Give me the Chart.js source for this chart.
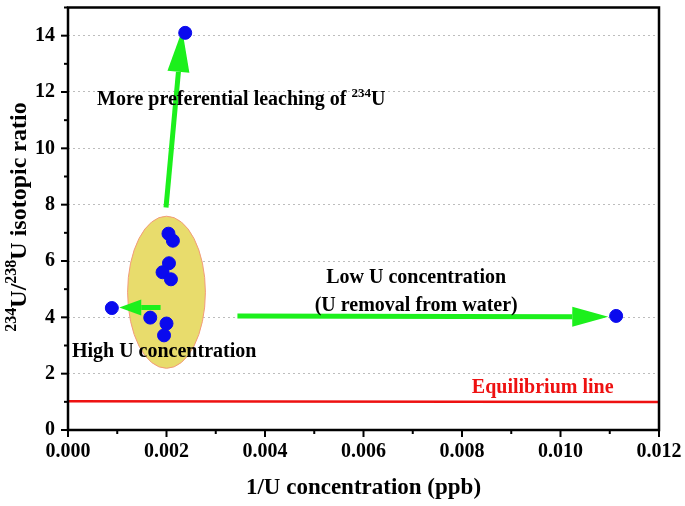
<!DOCTYPE html>
<html>
<head>
<meta charset="utf-8">
<script src="https://cdn.jsdelivr.net/npm/chart.js@4"></script>
<style>
  html, body { margin: 0; padding: 0; background: #fff; }
  #wrap { width: 685px; height: 506px; }
</style>
</head>
<body>
<div id="wrap"><canvas id="chart" width="685" height="506"></canvas></div>
<script>
// sample values
const xValues = [0.00238, 0.00089, 0.01113, 0.00204, 0.00213, 0.00205, 0.00192, 0.00209, 0.00167, 0.00200, 0.00195];
const yValues = [14.1, 4.33, 4.05, 6.97, 6.72, 5.92, 5.60, 5.35, 3.99, 3.78, 3.36];

const equilibriumX = [0, 0.012];
const equilibriumY = [1.02, 0.99];

// cluster ellipse: centre and radii in data units
const ellipseCenter = [0.0020, 4.89];
const ellipseRadius = [0.00079, 2.7];

// arrows: [x0, y0, x1, y1] in data units
const arrows = [
  [0.00199, 7.9, 0.00232, 14.2],
  [0.00344, 4.05, 0.01097, 4.02],
  [0.00188, 4.35, 0.00104, 4.35]
];

const xTicks = [0, 0.002, 0.004, 0.006, 0.008, 0.010, 0.012];
const yTicks = [0, 2, 4, 6, 8, 10, 12, 14];

const GREEN = "#1cf01c";
const FONT = "'Liberation Serif', 'Times New Roman', serif";

const drawRich = (ctx, parts, x, y, size) => {
  // parts: [text, isSuperscript]
  let cx = x;
  parts.forEach(([t, sup]) => {
    const s = sup ? Math.round(size * 0.65) : size;
    ctx.font = `bold ${s}px ${FONT}`;
    ctx.fillText(t, cx, sup ? y - size * 0.42 : y);
    cx += ctx.measureText(t).width;
  });
  return cx - x;
};

const richWidth = (ctx, parts, size) => {
  let w = 0;
  parts.forEach(([t, sup]) => {
    const s = sup ? Math.round(size * 0.65) : size;
    ctx.font = `bold ${s}px ${FONT}`;
    w += ctx.measureText(t).width;
  });
  return w;
};

const noPad = (s) => {
  s.paddingTop = 0;
  s.paddingBottom = 0;
  s.paddingLeft = 0;
  s.paddingRight = 0;
};

const decorPlugin = {
  id: "decor",
  beforeDatasetsDraw(chart) {
    const { ctx, scales } = chart;
    const xs = scales.x, ys = scales.y;
    const cx = xs.getPixelForValue(ellipseCenter[0]);
    const cy = ys.getPixelForValue(ellipseCenter[1]);
    const rx = Math.abs(xs.getPixelForValue(ellipseCenter[0] + ellipseRadius[0]) - cx);
    const ry = Math.abs(ys.getPixelForValue(ellipseCenter[1] + ellipseRadius[1]) - cy);
    ctx.save();
    ctx.beginPath();
    ctx.ellipse(cx, cy, rx, ry, 0, 0, Math.PI * 2);
    ctx.fillStyle = "#e8dc6c";
    ctx.fill();
    ctx.strokeStyle = "#f29a7a";
    ctx.lineWidth = 1;
    ctx.stroke();

    // arrows
    arrows.forEach(([x0, y0, x1, y1], i) => {
      const px0 = xs.getPixelForValue(x0), py0 = ys.getPixelForValue(y0);
      const px1 = xs.getPixelForValue(x1), py1 = ys.getPixelForValue(y1);
      const ang = Math.atan2(py1 - py0, px1 - px0);
      const headLen = i === 0 ? 42 : (i === 1 ? 36 : 22);
      const headW = i === 0 ? 11 : (i === 1 ? 10 : 8);
      const bx = px1 - Math.cos(ang) * headLen, by = py1 - Math.sin(ang) * headLen;
      ctx.strokeStyle = GREEN;
      ctx.fillStyle = GREEN;
      ctx.lineWidth = 5;
      ctx.beginPath();
      ctx.moveTo(px0, py0);
      ctx.lineTo(bx, by);
      ctx.stroke();
      ctx.beginPath();
      ctx.moveTo(px1, py1);
      ctx.lineTo(bx - Math.sin(ang) * headW, by + Math.cos(ang) * headW);
      ctx.lineTo(bx + Math.sin(ang) * headW, by - Math.cos(ang) * headW);
      ctx.closePath();
      ctx.fill();
    });
    ctx.restore();
  },
  afterDraw(chart) {
    const { ctx, chartArea: a, scales } = chart;
    const xs = scales.x, ys = scales.y;
    ctx.save();
    // frame
    ctx.strokeStyle = "#000";
    ctx.lineWidth = 2.5;
    ctx.strokeRect(a.left, a.top, a.right - a.left, a.bottom - a.top);

    // ticks, major + minor
    ctx.lineWidth = 2;
    for (let v = 0; v <= 0.0120001; v += 0.001) {
      const px = xs.getPixelForValue(v);
      const major = Math.round(v * 1000) % 2 === 0;
      ctx.beginPath();
      ctx.moveTo(px, a.bottom);
      ctx.lineTo(px, a.bottom + (major ? 7 : 4));
      ctx.stroke();
    }
    for (let v = 0; v <= 15; v += 1) {
      const py = ys.getPixelForValue(v);
      const major = v % 2 === 0;
      ctx.beginPath();
      ctx.moveTo(a.left, py);
      ctx.lineTo(a.left - (major ? 7 : 4), py);
      ctx.stroke();
    }

    // annotations
    ctx.fillStyle = "#000";
    ctx.textBaseline = "alphabetic";
    ctx.textAlign = "left";
    drawRich(ctx, [["More preferential leaching of ", false], ["234", true], ["U", false]],
      xs.getPixelForValue(0.00059), ys.getPixelForValue(11.54), 20);
    ctx.font = `bold 20px ${FONT}`;
    ctx.textAlign = "center";
    ctx.fillText("Low U concentration", xs.getPixelForValue(0.00707), ys.getPixelForValue(5.22));
    ctx.fillText("(U removal from water)", xs.getPixelForValue(0.00707), ys.getPixelForValue(4.24));
    ctx.textAlign = "left";
    ctx.fillText("High U concentration", xs.getPixelForValue(0.00008), ys.getPixelForValue(2.58));
    ctx.fillStyle = "#ee1111";
    ctx.fillText("Equilibrium line", xs.getPixelForValue(0.0082), ys.getPixelForValue(1.31));

    // y axis title with superscripts
    ctx.fillStyle = "#000";
    const parts = [["234", true], ["U/", false], ["238", true], ["U isotopic ratio", false]];
    const w = richWidth(ctx, parts, 24);
    ctx.translate(26, 217);
    ctx.rotate(-Math.PI / 2);
    drawRich(ctx, parts, -w / 2, 0, 24);
    ctx.restore();
  }
};

new Chart(document.getElementById("chart"), {
  type: "scatter",
  data: {
    datasets: [
      {
        label: "Equilibrium line",
        type: "line",
        data: equilibriumX.map((x, i) => ({ x, y: equilibriumY[i] })),
        borderColor: "#ee1111",
        borderWidth: 2.5,
        pointRadius: 0,
        order: 2
      },
      {
        label: "Samples",
        data: xValues.map((x, i) => ({ x, y: yValues[i] })),
        backgroundColor: "#0a0aee",
        borderColor: "#0a0aee",
        pointRadius: 6.5,
        order: 1
      }
    ]
  },
  plugins: [decorPlugin],
  options: {
    responsive: false,
    animation: false,
    layout: { padding: { left: 0, right: 26, top: 5, bottom: 0 } },
    plugins: { legend: { display: false }, tooltip: { enabled: false } },
    scales: {
      x: {
        type: "linear",
        min: 0,
        max: 0.012,
        afterBuildTicks: (s) => { s.ticks = xTicks.map((value) => ({ value })); },
        afterFit: (s) => { s.height = 76; noPad(s); },
        grid: { display: false, drawTicks: false },
        border: { display: false },
        ticks: {
          padding: 10,
          color: "#000",
          font: { family: FONT, size: 20, weight: "bold" },
          callback: (v) => v.toFixed(3)
        },
        title: {
          display: true,
          text: "1/U concentration (ppb)",
          color: "#000",
          font: { family: FONT, size: 23, weight: "bold" },
          padding: { top: 6 }
        }
      },
      y: {
        min: 0,
        max: 15,
        afterBuildTicks: (s) => { s.ticks = yTicks.map((value) => ({ value })); },
        afterFit: (s) => { s.width = 68; noPad(s); },
        grid: {
          color: "#bdbdbd",
          lineWidth: 1,
          drawTicks: false
        },
        border: { display: false, dash: [2, 3] },
        ticks: {
          padding: 13,
          color: "#000",
          font: { family: FONT, size: 20, weight: "bold" }
        }
      }
    }
  }
});
</script>
</body>
</html>
